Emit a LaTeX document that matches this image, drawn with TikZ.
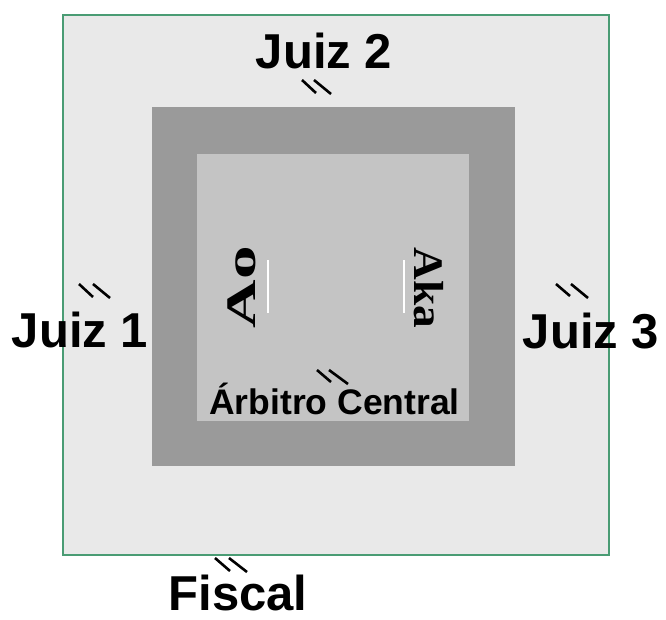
\documentclass[tikz,border=0pt]{standalone}
\usepackage{fontspec}
\usepackage{graphicx}
\setmainfont{Liberation Sans}
\newfontfamily\serifbold{Liberation Serif}
\definecolor{outerfill}{HTML}{E9E9E9}
\definecolor{outerline}{HTML}{4A9C74}
\definecolor{matfill}{HTML}{9A9A9A}
\definecolor{innerfill}{HTML}{C4C4C4}
\tikzset{
  judge/.style={font=\fontsize{49}{56}\selectfont\bfseries, anchor=base, inner sep=0pt},
  central/.style={font=\fontsize{35.5}{42}\selectfont\bfseries, anchor=base, inner sep=0pt},
  side/.style={font=\serifbold\fontsize{42}{48}\selectfont\bfseries, inner sep=0pt},
  slashmark/.style={line width=2.6pt, black},
  wline/.style={line width=2.4pt, white}
}
\begin{document}
\begin{tikzpicture}[x=1pt,y=-1pt]
\useasboundingbox (0,0) rectangle (666,619);
\fill[white] (0,0) rectangle (666,619);
% area
\filldraw[fill=outerfill, draw=outerline, line width=1.2pt] (63,15) rectangle (609,555);
\fill[matfill] (152,107) rectangle (515,466);
\fill[innerfill] (197,154) rectangle (469,421);
% white lines
\coordinate (w1a) at (268,260); \coordinate (w1b) at (268,313);
\coordinate (w2a) at (404,260); \coordinate (w2b) at (404,313);
\draw[wline] (w1a) -- (w1b);
\draw[wline] (w2a) -- (w2b);
% side labels
\node[side] (ao) at (242,287) {\rotatebox{90}{\scalebox{1.6}[1]{Ao}}};
\node[side] (aka) at (429,288) {\rotatebox{-90}{\scalebox{1.08}[1]{Aka}}};
% judge labels
\node[judge] (j2) at (324,68) {Juiz 2};
\node[judge] (j1) at (80,347) {Juiz 1};
\node[judge] (j3) at (591,348) {Juiz 3};
\node[judge] (fiscal) at (238,610) {Fiscal};
\node[central] (ac) at (334.5,414) {Árbitro Central};
% marks
\coordinate (m2a) at (302,80); \coordinate (m2b) at (316,93);
\coordinate (m2c) at (314,80); \coordinate (m2d) at (331,94);
\draw[slashmark] (m2a) -- (m2b); \draw[slashmark] (m2c) -- (m2d);
\coordinate (m1a) at (79,284); \coordinate (m1b) at (93,297);
\coordinate (m1c) at (93,284); \coordinate (m1d) at (110,298);
\draw[slashmark] (m1a) -- (m1b); \draw[slashmark] (m1c) -- (m1d);
\coordinate (m3a) at (556,284); \coordinate (m3b) at (570,296);
\coordinate (m3c) at (571,284); \coordinate (m3d) at (588,298);
\draw[slashmark] (m3a) -- (m3b); \draw[slashmark] (m3c) -- (m3d);
\coordinate (mfa) at (215,558); \coordinate (mfb) at (230,571);
\coordinate (mfc) at (229,558); \coordinate (mfd) at (247,572);
\draw[slashmark] (mfa) -- (mfb); \draw[slashmark] (mfc) -- (mfd);
\coordinate (mca) at (317,370); \coordinate (mcb) at (331,382);
\coordinate (mcc) at (329,370); \coordinate (mcd) at (348,384);
\draw[slashmark] (mca) -- (mcb); \draw[slashmark] (mcc) -- (mcd);
\end{tikzpicture}
\end{document}
